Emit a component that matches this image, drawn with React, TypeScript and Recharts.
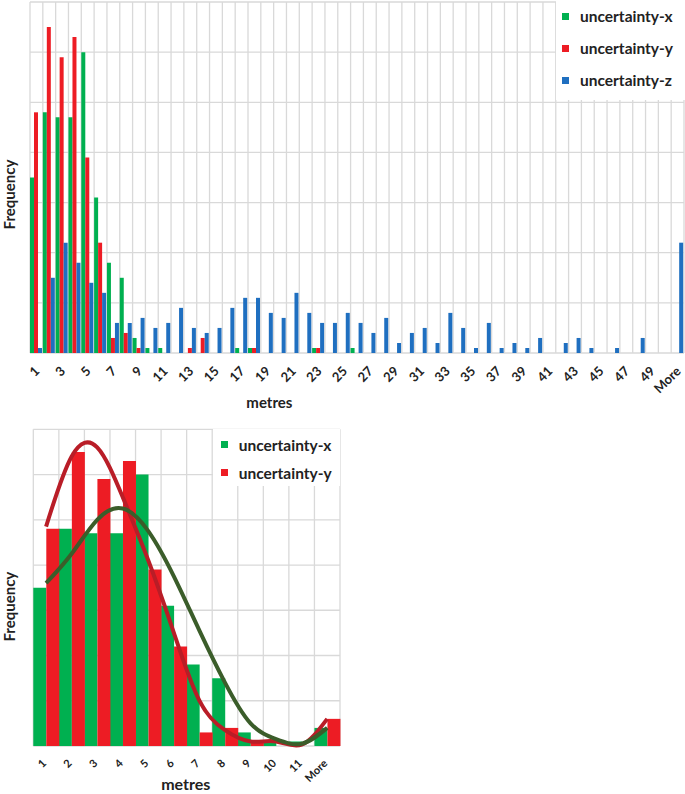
import React from 'react';
import { BarChart, ComposedChart, Bar, Line, XAxis, YAxis, CartesianGrid, Legend } from 'recharts';

// histogram bins, top chart
const binsAll = [
  '1', '2', '3', '4', '5', '6', '7', '8', '9', '10',
  '11', '12', '13', '14', '15', '16', '17', '18', '19', '20',
  '21', '22', '23', '24', '25', '26', '27', '28', '29', '30',
  '31', '32', '33', '34', '35', '36', '37', '38', '39', '40',
  '41', '42', '43', '44', '45', '46', '47', '48', '49', '50', 'More',
];
const freqX = [35, 48, 47, 47, 60, 31, 18, 15, 3, 1, 1, 0, 0, 0, 0, 0, 1, 1, 0, 0, 0, 0, 1, 0, 0, 1, 0, 0, 0, 0, 0, 0, 0, 0, 0, 0, 0, 0, 0, 0, 0, 0, 0, 0, 0, 0, 0, 0, 0, 0, 0];
const freqY = [48, 65, 59, 63, 39, 22, 3, 4, 1, 0, 0, 0, 1, 3, 0, 0, 0, 1, 0, 0, 0, 0, 1, 0, 0, 0, 0, 0, 0, 0, 0, 0, 0, 0, 0, 0, 0, 0, 0, 0, 0, 0, 0, 0, 0, 0, 0, 0, 0, 0, 0];
const freqZ = [1, 15, 22, 18, 14, 12, 6, 6, 7, 5, 6, 9, 5, 4, 5, 9, 11, 11, 8, 7, 12, 8, 6, 6, 8, 6, 4, 7, 2, 4, 5, 2, 8, 5, 1, 6, 1, 2, 1, 3, 0, 2, 3, 1, 0, 1, 0, 3, 0, 0, 22];

// bottom chart (bins 1..11 + More)
const binsShort = ['1', '2', '3', '4', '5', '6', '7', '8', '9', '10', '11', 'More'];
const shortX = [35, 48, 47, 47, 60, 31, 18, 15, 3, 1, 1, 4];
const shortY = [48, 65, 59, 63, 39, 22, 3, 4, 1, 0, 0, 6];
const curveX = [36, 42.5, 50, 52.5, 47.5, 37.5, 25.5, 14, 5, 1.5, 0.5, 4];
const curveY = [48.5, 64, 66, 55, 41, 25, 10, 3.5, 1, 1, 0.3, 6];

const yTicks = [0, 10, 20, 30, 40, 50, 60, 70];

const topData = binsAll.map((bin, i) => ({ bin, x: freqX[i], y: freqY[i], z: freqZ[i] }));
const bottomData = binsShort.map((bin, i) => ({ bin, x: shortX[i], y: shortY[i], cx: curveX[i], cy: curveY[i] }));

const FONT = 'Lato, "Noto Sans", sans-serif';
const INK = '#222';
const GRID = '#d9d9d9';
const GREEN = '#00b050';
const RED = '#ed1c24';
const BLUE = '#1f6fc0';

const boundaryLines = (n: number) => ({ offset }: any) =>
  Array.from({ length: n + 1 }, (_, i) => offset.left + (i * offset.width) / n);
const levelLines = (n: number) => ({ offset }: any) =>
  Array.from({ length: n + 1 }, (_, i) => offset.top + (i * offset.height) / n);

const AngledTick = (props: any) => {
  const { x, y, payload, size, dx, dy } = props;
  const px = x + dx;
  const py = y + dy;
  return (
    <text x={px} y={py} transform={`rotate(-45, ${px}, ${py})`} textAnchor="end"
      fontSize={size} fontWeight={700} fill={INK} fontFamily={FONT}>
      {payload.value}
    </text>
  );
};

const xTitle = (fx: number, bottom: number, size: number) => ({ viewBox }: any) => (
  <text x={viewBox.x + viewBox.width * fx} y={viewBox.y + viewBox.height - bottom}
    textAnchor="middle" fontSize={size} fontWeight={700} fill={INK} fontFamily={FONT}>
    metres
  </text>
);

const yTitle = (shift: number) => ({ viewBox }: any) => {
  const cx = 9;
  const cy = viewBox.y + viewBox.height / 2 + shift;
  return (
    <text x={cx} y={cy} transform={`rotate(-90, ${cx}, ${cy})`} textAnchor="middle"
      dominantBaseline="central" fontSize={15} fontWeight={700} fill={INK} fontFamily={FONT}>
      Frequency
    </text>
  );
};

const barKeys = ['x', 'y', 'z'];

const LegendBox = ({ payload, rowH, padTop, padLeft }: any) => (
  <div style={{ background: '#fff', height: '100%', paddingTop: padTop, paddingLeft: padLeft, boxSizing: 'border-box', fontFamily: FONT }}>
    {(payload || []).filter((p: any) => barKeys.includes(p.dataKey)).map((p: any) => (
      <div key={p.value} style={{ display: 'flex', alignItems: 'center', height: rowH, fontSize: 15.5, fontWeight: 700, color: INK }}>
        <span style={{ width: 7, height: 7, background: p.color, marginRight: 11, display: 'inline-block' }} />
        {p.value}
      </div>
    ))}
  </div>
);

export default function App() {
  return (
    <div style={{ position: 'absolute', left: 0, top: 0, width: 685, height: 794, background: '#fff' }}>
      <BarChart width={685} height={420} data={topData} margin={{ top: 2, right: 1, bottom: 0, left: 0 }}
        barCategoryGap={0} barGap={0}>
        <CartesianGrid stroke={GRID} strokeWidth={1.3}
          verticalCoordinatesGenerator={boundaryLines(binsAll.length)}
          horizontalCoordinatesGenerator={levelLines(yTicks.length - 1)} />
        <XAxis dataKey="bin" interval={1} height={67} axisLine={false} tickLine={false} tickSize={0}
          tick={<AngledTick size={13} dx={4} dy={17} />}
          label={{ content: xTitle(0.366, 12, 15) }} />
        <YAxis width={30} domain={[0, 70]} ticks={yTicks} tick={false} axisLine={false} tickLine={false}
          label={{ content: yTitle(17) }} />
        <Bar dataKey="x" name="uncertainty-x" fill={GREEN} isAnimationActive={false} />
        <Bar dataKey="y" name="uncertainty-y" fill={RED} isAnimationActive={false} />
        <Bar dataKey="z" name="uncertainty-z" fill={BLUE} isAnimationActive={false} />
        <Legend layout="vertical" verticalAlign="middle" align="center"
          wrapperStyle={{ left: 556, top: 0, width: 129, height: 100 }}
          content={(p: any) => <LegendBox {...p} rowH={32} padTop={0} padLeft={6} />} />
      </BarChart>

      <div style={{ position: 'absolute', left: 0, top: 420 }}>
        <ComposedChart width={345} height={374} data={bottomData} margin={{ top: 9.3, right: 5, bottom: 0, left: 0 }}
          barCategoryGap={0} barGap={0}>
          <CartesianGrid stroke={GRID} strokeWidth={1.3}
            verticalCoordinatesGenerator={boundaryLines(binsShort.length)}
            horizontalCoordinatesGenerator={levelLines(yTicks.length - 1)} />
          <XAxis dataKey="bin" interval={0} height={48} axisLine={false} tickLine={false} tickSize={0}
            tick={<AngledTick size={11} dx={1} dy={16} />}
            label={{ content: xTitle(0.497, 4, 16) }} />
          <YAxis width={33.3} domain={[0, 70]} ticks={yTicks} tick={false} axisLine={false} tickLine={false}
            label={{ content: yTitle(19) }} />
          <Bar dataKey="x" name="uncertainty-x" fill={GREEN} isAnimationActive={false} />
          <Bar dataKey="y" name="uncertainty-y" fill={RED} isAnimationActive={false} />
          <Line type="natural" dataKey="cy" stroke="#b91d27" strokeWidth={4} dot={false} legendType="none" isAnimationActive={false} />
          <Line type="natural" dataKey="cx" stroke="#3b5d2a" strokeWidth={4} dot={false} legendType="none" isAnimationActive={false} />
          <Legend layout="vertical" verticalAlign="middle" align="center"
            wrapperStyle={{ left: 212.7, top: 9.3, width: 127, height: 57 }}
            content={(p: any) => <LegendBox {...p} rowH={28} padTop={1.7} padLeft={8} />} />
        </ComposedChart>
      </div>
    </div>
  );
}
